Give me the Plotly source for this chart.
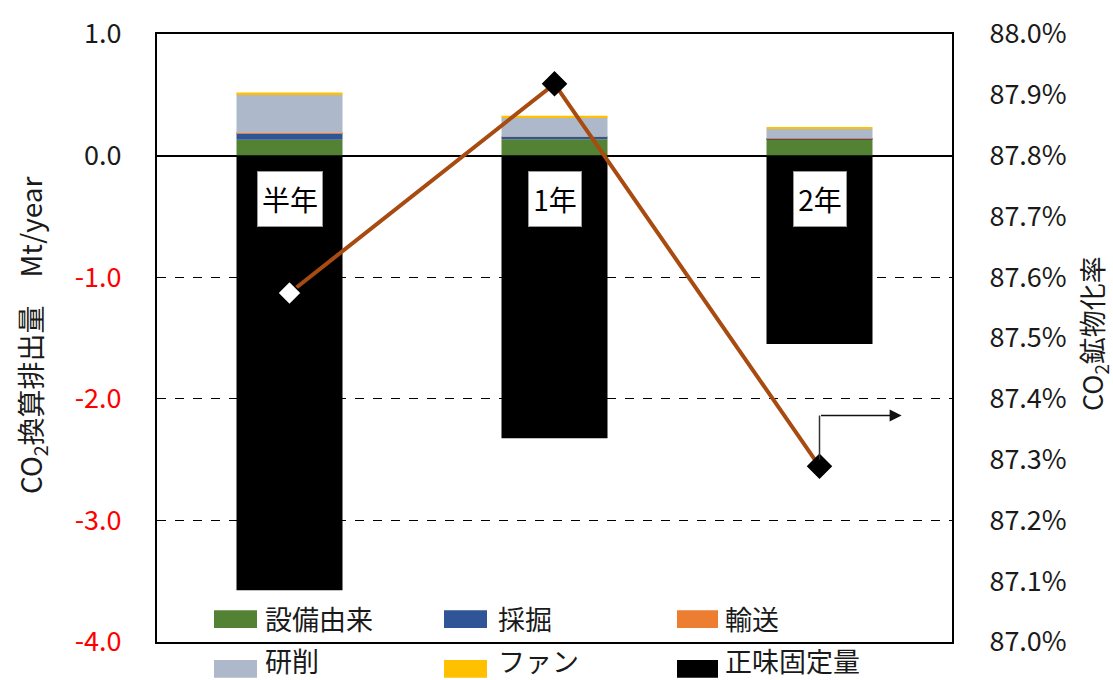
import plotly.graph_objects as go

# Periods on the category axis
periods = ["半年", "1年", "2年"]

# Emission components (Mt/year), stacked above zero
equipment = [0.13, 0.135, 0.135]   # 設備由来
mining = [0.055, 0.019, 0.008]     # 採掘
transport = [0.001, 0.001, 0.001]  # 輸送
grinding = [0.32, 0.162, 0.078]    # 研削
fan = [0.012, 0.01, 0.01]          # ファン
net_fixed = [-3.575, -2.325, -1.55]  # 正味固定量

# Mineralisation ratio (%), right axis
mineral_rate = [87.574, 87.918, 87.289]

left_ticks = [1.0, 0.0, -1.0, -2.0, -3.0, -4.0]
right_ticks = [88.0, 87.9, 87.8, 87.7, 87.6, 87.5, 87.4, 87.3, 87.2, 87.1, 87.0]

FONT = "Noto Sans CJK JP"
W, H = 1113, 680
L, R, T, B = 157, 161, 30, 38
PW, PH = W - L - R, H - T - B

series = [
    ("設備由来", equipment, "#548235"),
    ("採掘", mining, "#2F5597"),
    ("輸送", transport, "#ED7D31"),
    ("研削", grinding, "#ADB9CA"),
    ("ファン", fan, "#FFC000"),
    ("正味固定量", net_fixed, "#000000"),
]

fig = go.Figure()
for name, vals, col in series:
    fig.add_trace(go.Bar(x=periods, y=vals, name=name, width=0.4,
                         marker=dict(color=col, line=dict(width=0)),
                         showlegend=False))

fig.add_trace(go.Scatter(
    x=periods, y=mineral_rate, yaxis="y2", mode="lines+markers",
    line=dict(color="#A84B10", width=4),
    marker=dict(symbol="diamond", size=18,
                color=["#FFFFFF", "#000000", "#000000"],
                line=dict(color="#000000", width=1.5)),
    showlegend=False))


def red_or_black(v):
    txt = f"{v:.1f}"
    if v < 0:
        return f'<span style="color:#FF0000">{txt}</span>'
    return txt


fig.update_layout(
    width=W, height=H,
    margin=dict(l=L, r=R, t=T, b=B),
    paper_bgcolor="white", plot_bgcolor="white",
    barmode="relative",
    font=dict(family=FONT, size=26, color="#1a1a1a"),
    xaxis=dict(showticklabels=False, ticks="", showgrid=False,
               showline=True, linecolor="black", linewidth=2, mirror=True,
               range=[-0.5, 2.5]),
    yaxis=dict(range=[-4.0, 1.0], tickvals=left_ticks,
               ticktext=[red_or_black(v) for v in left_ticks],
               tickfont=dict(size=27, color="#1a1a1a"),
               ticklabelstandoff=28,
               showgrid=True, gridcolor="black", griddash="dash", gridwidth=1.3,
               zeroline=True, zerolinecolor="black", zerolinewidth=1.5,
               showline=True, linecolor="black", linewidth=2, mirror=True),
    yaxis2=dict(range=[87.0, 88.0], overlaying="y", side="right",
                tickvals=right_ticks,
                ticktext=[f"{v:.1f}%" for v in right_ticks],
                tickfont=dict(size=27, color="#1a1a1a"),
                ticklabelstandoff=30,
                showgrid=False, zeroline=False,
                showline=True, linecolor="black", linewidth=2),
)

# Period labels inside the net-fixed bars
for i, p in enumerate(periods):
    fig.add_annotation(x=p, y=-0.36, xref="x", yref="y", text=p,
                       showarrow=False, font=dict(size=28, color="black"),
                       bgcolor="white", bordercolor="#999999", borderwidth=1,
                       width=62 if p == "半年" else 50,
                       height=52)

# Axis titles
fig.add_annotation(x=(32 - L) / PW, y=(H - B - 333) / PH, xref="paper", yref="paper",
                   xanchor="center", yanchor="middle",
                   text="CO<sub>2</sub>換算排出量　Mt/year", textangle=-90,
                   showarrow=False, font=dict(size=28, color="#1a1a1a"))
fig.add_annotation(x=(1093 - L) / PW, y=(H - B - 332) / PH, xref="paper", yref="paper",
                   xanchor="center", yanchor="middle",
                   text="CO<sub>2</sub>鉱物化率", textangle=-90,
                   showarrow=False, font=dict(size=27, color="#1a1a1a"))

# Bent arrow pointing to the right-hand axis
fig.add_shape(type="line", xref="x", yref="y2", x0=2, x1=2, y0=87.30, y1=87.3725,
              line=dict(color="#333333", width=1.5))
fig.add_annotation(xref="x", yref="y2", axref="x", ayref="y2",
                   x=2.31, y=87.3725, ax=2, ay=87.3725, text="",
                   showarrow=True, arrowhead=2, arrowsize=1.6, arrowwidth=1.5,
                   arrowcolor="#111111")

# Legend drawn as swatches + text in two rows
legend_cols = [(214, 257, 263), (444, 487, 496), (677, 718, 723)]
legend_rows = [(610, 628, 618), (660, 678, 661)]
for k, (name, _, col) in enumerate(series):
    r, c = divmod(k, 3)
    x0, x1, tx = legend_cols[c]
    y0, y1, ty = legend_rows[r]
    fig.add_shape(type="rect", xref="paper", yref="paper",
                  x0=(x0 - L) / PW, x1=(x1 - L) / PW,
                  y0=(H - B - y1) / PH, y1=(H - B - y0) / PH,
                  fillcolor=col, line=dict(width=0))
    fig.add_annotation(x=(tx - L) / PW, y=(H - B - ty) / PH,
                       xref="paper", yref="paper", xanchor="left", yanchor="middle",
                       text=name, showarrow=False,
                       font=dict(size=27, color="#1a1a1a"))

fig.write_html("out.html")
